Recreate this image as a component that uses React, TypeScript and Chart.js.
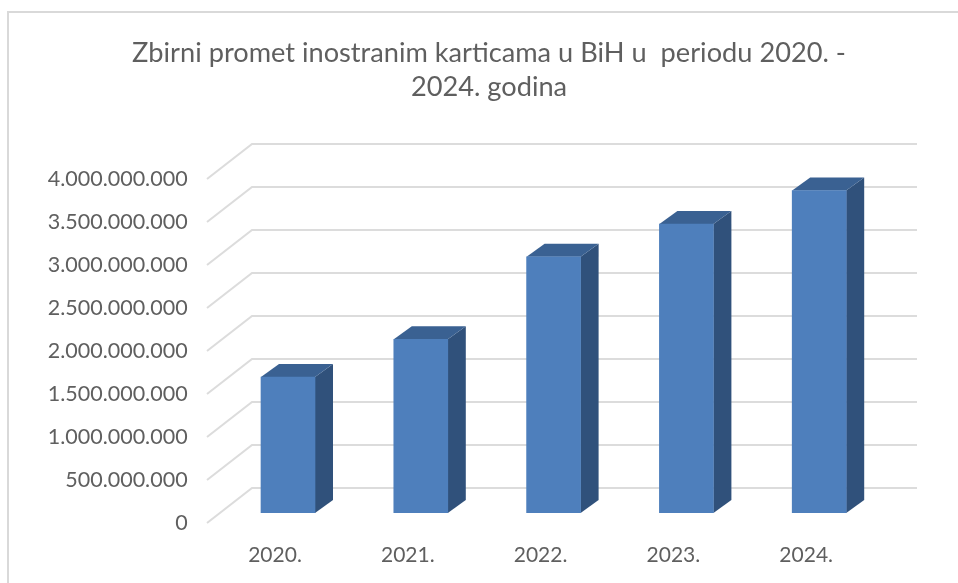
import React, { useEffect, useRef } from "react";
import { Chart, registerables } from "chart.js";

Chart.register(...registerables);

const categories = ["2020.", "2021.", "2022.", "2023.", "2024."];
const totals = [1580000000, 2020000000, 2980000000, 3360000000, 3750000000];
const titleLines = ["Zbirni promet inostranim karticama u BiH u  periodu 2020. -", "2024. godina"];
const axisMax = 4000000000;
const axisStep = 500000000;

const FONT = "Lato, Carlito, Calibri, sans-serif";
const TEXT = "#5f5f5f";
const GRID = "#dcdcdc";
const FRONT = "#4e7fbc";
const SIDE = "#30517b";
const TOP = "#3a6192";
const DEPTH_X = 18;
const DEPTH_Y = 13;

const formatTick = (v: number) => String(v).replace(/\B(?=(\d{3})+(?!\d))/g, ".");

const scene3d = {
  id: "scene3d",
  afterLayout(chart: any) {
    // The title is centred over x = 489 in the reference, not over the plot.
    chart.titleBlock.left = 20;
    chart.titleBlock.right = chart.width;
  },
  beforeDraw(chart: any) {
    const { ctx, width, height } = chart;
    ctx.save();
    ctx.fillStyle = "#ffffff";
    ctx.fillRect(0, 0, width, height);
    ctx.strokeStyle = "#d9d9d9";
    ctx.lineWidth = 2;
    ctx.beginPath();
    ctx.moveTo(8, height);
    ctx.lineTo(8, 12);
    ctx.lineTo(width, 12);
    ctx.stroke();
    ctx.restore();
  },
  beforeDatasetsDraw(chart: any) {
    const { ctx, chartArea, scales } = chart;
    const y = scales.y;
    ctx.save();
    ctx.strokeStyle = GRID;
    ctx.lineWidth = 2;
    for (const t of y.ticks) {
      const p = y.getPixelForValue(t.value);
      ctx.beginPath();
      ctx.moveTo(chartArea.left - 14.6, p + 10);
      ctx.lineTo(chartArea.left + 30.4, p - 25);
      ctx.lineTo(chartArea.right + 31.4, p - 25);
      ctx.stroke();
    }
    for (const bar of chart.getDatasetMeta(0).data as any[]) {
      const l = bar.x - bar.width / 2;
      const r = bar.x + bar.width / 2;
      ctx.fillStyle = SIDE;
      ctx.beginPath();
      ctx.moveTo(r, bar.y);
      ctx.lineTo(r + DEPTH_X, bar.y - DEPTH_Y);
      ctx.lineTo(r + DEPTH_X, bar.base - DEPTH_Y);
      ctx.lineTo(r, bar.base);
      ctx.closePath();
      ctx.fill();
      ctx.fillStyle = TOP;
      ctx.beginPath();
      ctx.moveTo(l, bar.y);
      ctx.lineTo(l + DEPTH_X, bar.y - DEPTH_Y);
      ctx.lineTo(r + DEPTH_X, bar.y - DEPTH_Y);
      ctx.lineTo(r, bar.y);
      ctx.closePath();
      ctx.fill();
    }
    ctx.restore();
  },
};

export default function App() {
  const ref = useRef<HTMLCanvasElement | null>(null);
  useEffect(() => {
    const chart = new Chart(ref.current as HTMLCanvasElement, {
      type: "bar",
      data: {
        labels: categories,
        datasets: [{ data: totals, backgroundColor: FRONT, barThickness: 54, borderWidth: 0 }],
      },
      plugins: [scene3d],
      options: {
        animation: false,
        responsive: false,
        layout: { padding: { left: 0, right: 72.4, top: 0, bottom: 0 } },
        plugins: {
          legend: { display: false },
          tooltip: { enabled: false },
          title: {
            display: true,
            text: titleLines,
            color: TEXT,
            font: { family: FONT, size: 27.2, weight: "normal", lineHeight: 34 / 27.2 },
            padding: { top: 36, bottom: 65 },
          },
        },
        scales: {
          x: {
            grid: { display: false, drawTicks: false },
            border: { display: false },
            ticks: {
              color: TEXT,
              font: { family: FONT, size: 21 },
              padding: 30,
              labelOffset: -13,
              maxRotation: 0,
            },
            afterFit: (s: any) => {
              s.height = 70;
            },
          },
          y: {
            min: 0,
            max: axisMax,
            grid: { display: false, drawTicks: false },
            border: { display: false },
            ticks: {
              stepSize: axisStep,
              color: TEXT,
              font: { family: FONT, size: 21.5 },
              padding: 34,
              labelOffset: 10,
              callback: (v: any) => formatTick(Number(v)),
            },
            afterFit: (s: any) => {
              s.width = 221.6;
            },
          },
        },
      },
    } as any);
    return () => chart.destroy();
  }, []);
  return (
    <div style={{ position: "fixed", left: 0, top: 0, width: 958, height: 583 }}>
      <canvas ref={ref} width={958} height={583} style={{ display: "block" }} />
    </div>
  );
}
